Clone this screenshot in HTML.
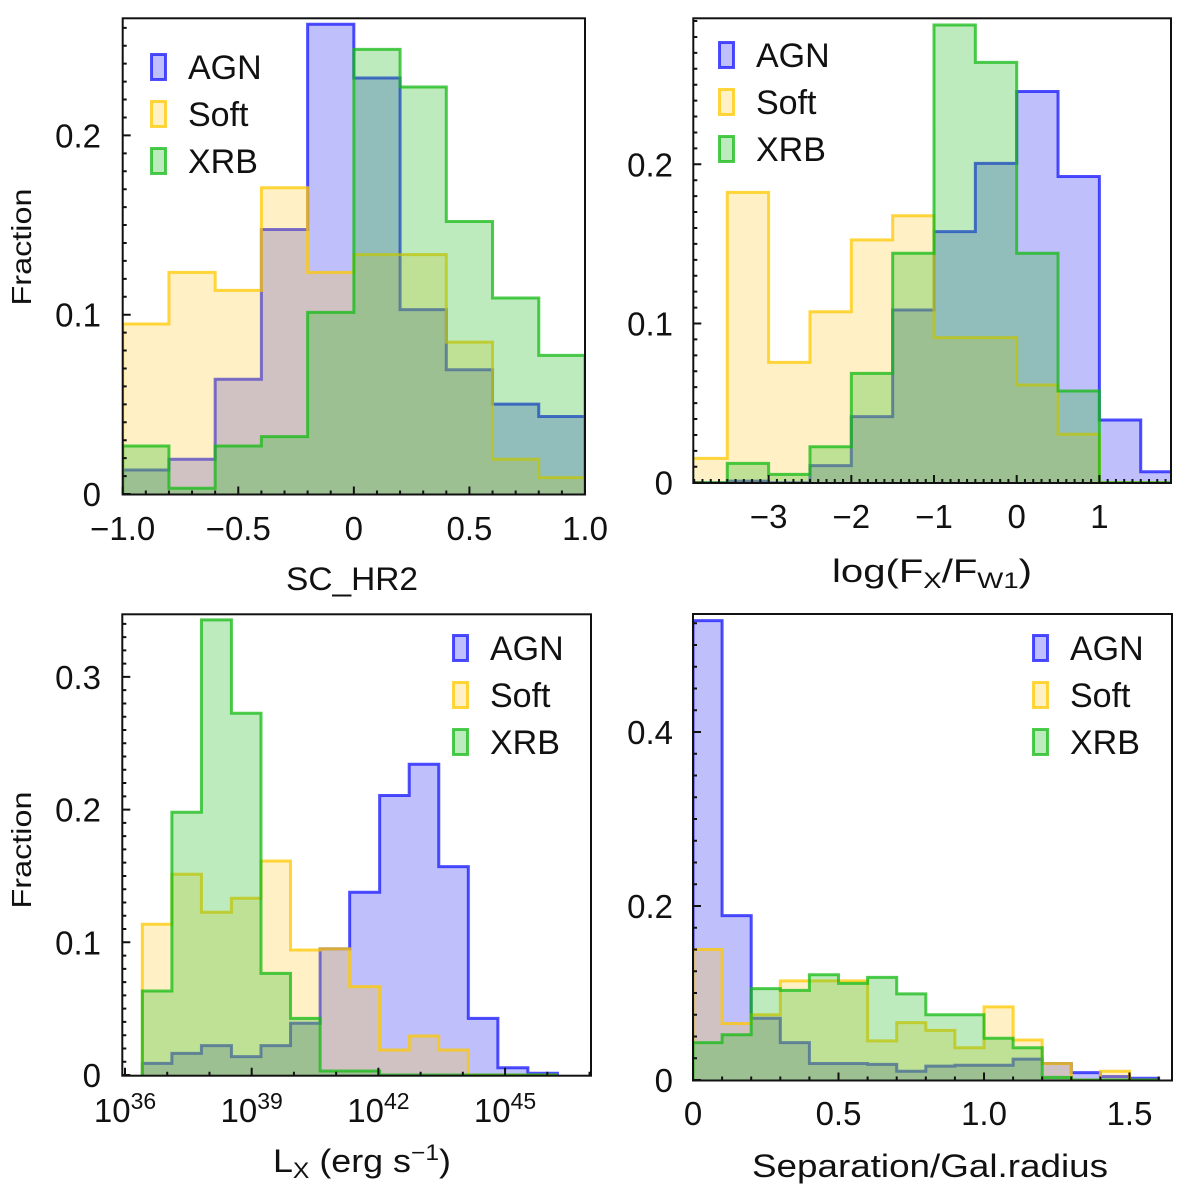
<!DOCTYPE html>
<html><head><meta charset="utf-8"><title>Histograms</title>
<style>
html,body{margin:0;padding:0;background:#fff;}
svg{display:block;font-family:"Liberation Sans","DejaVu Sans",sans-serif;}
</style></head>
<body>
<svg id="chart" width="1200" height="1192" viewBox="0 0 1200 1192" xmlns="http://www.w3.org/2000/svg"></svg>
<script>
// ---------- data ----------
const edgesHR2 = [-1,-0.8,-0.6,-0.4,-0.2,0,0.2,0.4,0.6,0.8,1];
const agnHR2  = [0.0134,0.0194,0.064,0.1475,0.262,0.232,0.1028,0.0693,0.0501,0.0432];
const softHR2 = [0.0948,0.1236,0.1136,0.1708,0.1236,0.1335,0.1335,0.0847,0.0194,0.0091];
const xrbHR2  = [0.0268,0.0032,0.0268,0.032,0.1013,0.248,0.227,0.152,0.1093,0.0773];

const edgesFX = [-4,-3.5,-3,-2.5,-2,-1.5,-1,-0.5,0,0.5,1,1.5,2];
const agnFX  = [0,0.001,0,0.0107,0.0415,0.1085,0.1577,0.2006,0.2457,0.1923,0.0394,0.0069];
const softFX = [0.0153,0.1824,0.0756,0.1074,0.1525,0.1677,0.0911,0.0911,0.0614,0.0304,0,0];
const xrbFX  = [0,0.0121,0.0052,0.0226,0.0687,0.1441,0.2875,0.264,0.1441,0.0576,0,0];

const edgesLX = [36.41,37.11,37.81,38.52,39.22,39.92,40.62,41.32,42.03,42.73,43.43,44.13,44.83,45.54,46.24];
const agnLX  = [0.0088,0.0163,0.0221,0.0138,0.0221,0.039,0.095,0.1377,0.2106,0.2342,0.157,0.0427,0.0055,0.0013];
const softLX = [0.1136,0.1513,0.1226,0.1332,0.1613,0.0942,0.095,0.0666,0.0188,0.0294,0.0188,0,0,0];
const xrbLX  = [0.0633,0.198,0.343,0.2726,0.0766,0.0427,0.003,0.003,0,0,0,0,0,0];

const edgesSep = [0,0.1,0.2,0.3,0.4,0.5,0.6,0.7,0.8,0.9,1.0,1.1,1.2,1.3,1.4,1.5,1.6];
const agnSep  = [0.528,0.189,0.071,0.043,0.019,0.019,0.018,0.010,0.016,0.017,0.017,0.024,0.019,0.0085,0.004,0.002];
const softSep = [0.150,0.065,0.075,0.114,0.114,0.114,0.045,0.066,0.057,0.037,0.084,0.046,0.019,0,0.010,0];
const xrbSep  = [0.043,0.052,0.105,0.103,0.121,0.111,0.118,0.099,0.075,0.075,0.048,0.037,0.003,0,0,0];

const ticksHR2 = [-1,-0.5,0,0.5,1];
const tickLabelsHR2 = ["\u22121.0","\u22120.5","0","0.5","1.0"];
const ticksFX = [-3,-2,-1,0,1];
const tickLabelsFX = ["\u22123","\u22122","\u22121","0","1"];
const ticksLX = [36,39,42,45];
const ticksSep = [0,0.5,1,1.5];
const tickLabelsSep = ["0","0.5","1.0","1.5"];
const yTicksTop = [0,0.1,0.2];
const yTickLabelsTop = ["0","0.1","0.2"];
const yTicksLX = [0,0.1,0.2,0.3];
const yTickLabelsLX = ["0","0.1","0.2","0.3"];
const yTicksSep = [0,0.2,0.4];
const yTickLabelsSep = ["0","0.2","0.4"];
const seriesNames = ["AGN","Soft","XRB"];

// ---------- drawing ----------
const NS = "http://www.w3.org/2000/svg";
const svg = document.getElementById("chart");
const COL = {
  AGN:{line:"rgba(20,20,255,0.75)",fill:"rgba(20,20,240,0.27)"},
  Soft:{line:"rgba(255,200,0,0.75)",fill:"rgba(255,205,40,0.27)"},
  XRB:{line:"rgba(20,185,20,0.75)",fill:"rgba(40,190,40,0.3)"}
};
function mk(tag, attrs, parent){
  const e = document.createElementNS(NS, tag);
  for (const k in attrs) e.setAttribute(k, attrs[k]);
  (parent||svg).appendChild(e);
  return e;
}

function panel(cfg){
  const g = mk("g", {});
  
  
  const xs = v => cfg.L + (v - cfg.xmin) / (cfg.xmax - cfg.xmin) * (cfg.R - cfg.L);
  const ys = v => cfg.y0 - v * cfg.yscale;
  const clipId = "clip-" + cfg.name;
  const cp = mk("clipPath", {id: clipId}, g);
  mk("rect", {x: cfg.L, y: cfg.T, width: cfg.R - cfg.L, height: cfg.B - cfg.T}, cp);
  const bars = mk("g", {"clip-path": "url(#" + clipId + ")"}, g);
  cfg.series.forEach((vals, si) => {
    const nm = seriesNames[si];
    let d = "M" + xs(cfg.edges[0]) + "," + ys(0);
    for (let i = 0; i < vals.length; i++) {
      d += " L" + xs(cfg.edges[i]) + "," + ys(vals[i]) + " L" + xs(cfg.edges[i+1]) + "," + ys(vals[i]);
    }
    d += " L" + xs(cfg.edges[vals.length]) + "," + ys(0);
    const f = mk("path", {d: d + " Z", fill: COL[nm].fill, stroke: "none"}, bars);
    
    
    const l = mk("path", {d: d, fill: "none", stroke: COL[nm].line, "stroke-width": 3, "stroke-linejoin": "miter"}, bars);
    
    
  });
  // frame
  const fr = mk("rect", {x: cfg.L, y: cfg.T, width: cfg.R - cfg.L, height: cfg.B - cfg.T, fill: "none", stroke: "#111", "stroke-width": 2}, g);
  
  
  // minor ticks
  let tk = "";
  for (let v = cfg.xminor[0]; v <= cfg.xminor[1] + 1e-9; v += cfg.xminor[2]) {
    const x = xs(v); if (x < cfg.L - 0.5 || x > cfg.R + 0.5) continue;
    tk += "M" + x + "," + cfg.B + " v-4 ";
  }
  for (let v = 0; v <= 1 + 1e-9; v += cfg.yminor) {
    const y = ys(v); if (y < cfg.T) break;
    tk += "M" + cfg.L + "," + y + " h4 ";
  }
  cfg.xticks.forEach(v => { tk += "M" + xs(v) + "," + cfg.B + " v-8 "; });
  cfg.yticks.forEach(v => { tk += "M" + cfg.L + "," + ys(v) + " h8 "; });
  mk("path", {d: tk, stroke: "#111", "stroke-width": 2, fill: "none"}, g);
  // x tick labels
  cfg.xticks.forEach((v, i) => {
    const t = mk("text", {x: xs(v), y: cfg.xlabY, "text-anchor": "middle", "font-size": 33, fill: "#111"}, g);
    
    
    if (cfg.logx) {
      const a = mk("tspan", {}, t); a.textContent = "10";
      const b = mk("tspan", {dy: -13, "font-size": 23}, t); b.textContent = String(v);
    } else t.textContent = cfg.xtickLabels[i];
  });
  // y tick labels
  cfg.yticks.forEach((v, i) => {
    const t = mk("text", {x: cfg.ylabX, y: ys(v) + 12, "text-anchor": "end", "font-size": 33, fill: "#111"}, g);
    
    
    t.textContent = cfg.ytickLabels[i];
  });
  // axis labels
  const xl = mk("text", {x: cfg.xtitle.x, y: cfg.xtitle.y, "text-anchor": "middle", "font-size": 32, fill: "#111", textLength: cfg.xtitle.w, lengthAdjust: "spacingAndGlyphs"}, g);
  
  
  xl.innerHTML = cfg.xtitle.html;
  if (cfg.ytitle) {
    const yl = mk("text", {x: 0, y: 0, transform: "translate(31," + cfg.ytitle + ") rotate(-90)", "text-anchor": "middle", "font-size": 28, fill: "#111", textLength: 117, lengthAdjust: "spacingAndGlyphs"}, g);
    
    
    yl.textContent = "Fraction";
  }
  // legend
  const lg = mk("g", {}, g);
  
  
  seriesNames.forEach((nm, i) => {
    const cy = cfg.legend.y + i * 47;
    const e = mk("g", {}, lg);
    
    
    mk("rect", {x: cfg.legend.x + 1.5, y: cy - 12.5, width: 14, height: 25, fill: COL[nm].fill, stroke: COL[nm].line, "stroke-width": 3}, e);
    const t = mk("text", {x: cfg.legend.x + 38, y: cy + 12, "font-size": 34, fill: "#111"}, e);
    t.textContent = nm;
  });
}

panel({name:"panel-hr2", L:122.7, R:585, T:18.3, B:494.5, y0:494, yscale:1793, xmin:-1, xmax:1,
  edges:edgesHR2, series:[agnHR2, softHR2, xrbHR2],
  xticks:ticksHR2, xtickLabels:tickLabelsHR2, xminor:[-1,1,0.1],
  yticks:yTicksTop, ytickLabels:yTickLabelsTop, yminor:0.01,
  xlabY:540, ylabX:101, xtitle:{x:352,y:590,w:132,html:"SC_HR2"}, ytitle:247, legend:{x:150,y:67}});

panel({name:"panel-fx-fw1", L:693.3, R:1171, T:18.3, B:483, y0:482.7, yscale:1592, xmin:-3.911, xmax:1.866,
  edges:edgesFX, series:[agnFX, softFX, xrbFX],
  xticks:ticksFX, xtickLabels:tickLabelsFX, xminor:[-3.9,1.9,0.1],
  yticks:yTicksTop, ytickLabels:yTickLabelsTop, yminor:0.01,
  xlabY:528, ylabX:673, xtitle:{x:932,y:582,w:200,html:'log(F<tspan font-size="22" dy="6">X</tspan><tspan dy="-6">/F</tspan><tspan font-size="22" dy="6">W1</tspan><tspan dy="-6">)</tspan>'}, ytitle:null, legend:{x:718,y:55}});

panel({name:"panel-lx", L:122.3, R:591, T:614.3, B:1075.7, y0:1075, yscale:1327, xmin:35.936, xmax:47.035, logx:true,
  edges:edgesLX, series:[agnLX, softLX, xrbLX],
  xticks:ticksLX, xtickLabels:[], xminor:[36,47,1],
  yticks:yTicksLX, ytickLabels:yTickLabelsLX, yminor:0.01,
  xlabY:1122, ylabX:101, xtitle:{x:362,y:1172,w:178,html:'L<tspan font-size="22" dy="6">X</tspan><tspan dy="-6"> (erg s</tspan><tspan font-size="22" dy="-12">\u22121</tspan><tspan dy="12">)</tspan>'}, ytitle:850, legend:{x:452,y:648}});

panel({name:"panel-separation", L:693, R:1172, T:614, B:1080.5, y0:1080, yscale:870, xmin:0, xmax:1.646,
  edges:edgesSep, series:[agnSep, softSep, xrbSep],
  xticks:ticksSep, xtickLabels:tickLabelsSep, xminor:[0,1.6,0.1],
  yticks:yTicksSep, ytickLabels:yTickLabelsSep, yminor:0.025,
  xlabY:1125, ylabX:673, xtitle:{x:930,y:1177,w:356,html:"Separation/Gal.radius"}, ytitle:null, legend:{x:1032,y:648}});
</script>
</body></html>
